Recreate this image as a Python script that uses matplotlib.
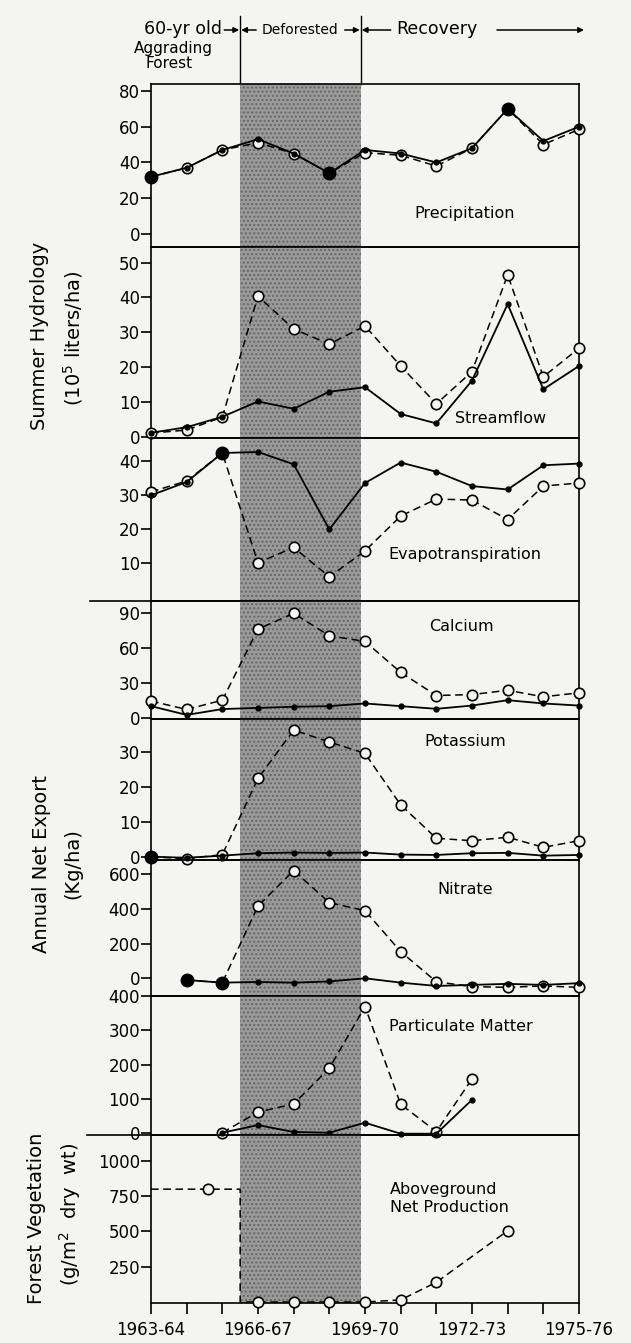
import matplotlib.pyplot as plt
import numpy as np

W, H = 631, 1343
BG = '#f4f4f2'

years = ['1963-64', '1964-65', '1965-66', '1966-67', '1967-68', '1968-69', '1969-70',
         '1970-71', '1971-72', '1972-73', '1973-74', '1974-75', '1975-76']
idx = np.arange(len(years))
shade = (2.5, 5.88)
nan = np.nan

# solid = reference forest, dashed = deforested watershed
precip_ref = [32, 37, 47, 53, 45, 34, 47, 45, 40, 48, 70, 52, 60]
precip_cut = [32, 37, 47, 51, 45, 34, 45.5, 44, 38, 48, 70, 50, 58.5]
stream_ref = [1.1, 2.7, 5.7, 10.1, 8.0, 12.9, 14.2, 6.5, 3.8, 16.1, 38.1, 13.6, 20.3]
stream_cut = [1.0, 1.9, 5.6, 40.4, 30.9, 26.6, 31.8, 20.3, 9.4, 18.7, 46.5, 17.2, 25.4]
evapo_ref = [29.9, 33.8, 42.3, 42.6, 39.0, 19.9, 33.5, 39.5, 36.8, 32.6, 31.6, 38.7, 39.2]
evapo_cut = [30.9, 34.1, 42.3, 10.1, 14.6, 6.0, 13.6, 23.8, 28.8, 28.5, 22.8, 32.6, 33.5]
calcium_ref = [10.5, 3, 8, 9, 10, 10.5, 12.8, 10.5, 8.2, 11, 15.6, 12.8, 11]
calcium_cut = [14.8, 7.7, 15.6, 76.4, 90, 70.7, 65.9, 39.4, 19.6, 20.4, 24.1, 18.5, 21.9]
potassium_ref = [0, -0.3, 0.3, 1.0, 1.2, 1.1, 1.2, 0.6, 0.5, 1.0, 1.1, 0.3, 0.5]
potassium_cut = [0, -0.6, 0.6, 22.5, 36.4, 33.0, 29.7, 14.9, 5.3, 4.6, 5.6, 2.7, 4.6]
nitrate_ref = [nan, -10, -25, -21, -25, -18, 0, -25, -44, -38, -32, -38, -28]
nitrate_cut = [nan, -10, -25, 417, 621, 436, 390, 154, -20, -48, -52, -44, -52]
partic_ref = [nan, nan, 1, 23, 3, 1, 30, -2, -2, 97, nan, nan, nan]
partic_cut = [nan, nan, 1, 61, 85, 189, 369, 84, 4, 158, nan, nan, nan]
veg_x = [0, 1.6, 2.5, 2.5, 3, 4, 5, 6, 7, 8, 10]
veg_y = [800, 800, 800, 0, 0, 0, 0, 0, 15, 140, 505]
veg_marks = [1, 4, 5, 6, 7, 8, 9, 10]

# name, ref, cut, joint big dots, ylim, yticks, label (x, y), panel px top/bottom
panels = [
    ('Precipitation', precip_ref, precip_cut, [0, 5, 10], (-7.3, 83.9), [0, 20, 40, 60, 80], (8.8, 11.7), 84, 247),
    ('Streamflow', stream_ref, stream_cut, [], (-0.4, 54.5), [0, 10, 20, 30, 40, 50], (9.8, 5.1), 247, 438),
    ('Evapotranspiration', evapo_ref, evapo_cut, [2], (-1.1, 46.7), [10, 20, 30, 40], (8.8, 12.4), 438, 601),
    ('Calcium', calcium_ref, calcium_cut, [], (-0.5, 100.5), [0, 30, 60, 90], (8.7, 78.6), 601, 719),
    ('Potassium', potassium_ref, potassium_cut, [0], (-0.95, 39.6), [0, 10, 20, 30], (8.8, 33), 719, 860),
    ('Nitrate', nitrate_ref, nitrate_cut, [1, 2], (-102, 682), [0, 200, 400, 600], (8.8, 513), 860, 996),
    ('Particulate Matter', partic_ref, partic_cut, [], (-5.8, 400), [0, 100, 200, 300, 400], (8.7, 310), 996, 1135),
]

L, R = 151, 579

fig = plt.figure(figsize=(W / 100, H / 100), dpi=100, facecolor=BG)
ov = fig.add_axes([0, 0, 1, 1], zorder=-1)
ov.set_xlim(0, W)
ov.set_ylim(H, 0)
ov.axis('off')
ov.set_facecolor(BG)


def box(top, bot):
    return [L / W, 1 - bot / H, (R - L) / W, (bot - top) / H]


def style(ax, ylim, yticks):
    ax.set_facecolor('none')
    ax.set_xlim(0, 12)
    ax.set_ylim(*ylim)
    ax.set_yticks(yticks)
    ax.tick_params(axis='y', direction='out', length=7, width=1.2, pad=1, labelsize=12)
    ax.set_xticks([])
    for s in ax.spines.values():
        s.set_linewidth(1.2)
    ax.axvspan(*shade, facecolor='#9a9a9a', edgecolor='#666666', hatch='....', lw=0, zorder=0)


for name, ref, cut, joint, ylim, yticks, lab, top, bot in panels:
    ax = fig.add_axes(box(top, bot))
    style(ax, ylim, yticks)
    ax.plot(idx, cut, color='k', lw=1.1, dashes=(5, 3), marker='o', ms=7.5,
            mfc=BG, mec='k', mew=1.2, clip_on=False, zorder=3)
    ax.plot(idx, ref, color='k', lw=1.3, marker='o', ms=3.5, clip_on=False, zorder=4)
    if joint:
        ax.plot(idx[joint], np.array(ref)[joint], 'o', color='k', ms=9, clip_on=False, zorder=5)
    ax.text(lab[0], lab[1], name, ha='center', va='center', fontsize=11.5)

# forest vegetation panel
ax = fig.add_axes(box(1135, 1303))
style(ax, (-7, 1184), [250, 500, 750, 1000])
ax.plot(veg_x, veg_y, color='k', lw=1.1, dashes=(5, 3), clip_on=False, zorder=3)
ax.plot(np.array(veg_x)[veg_marks], np.array(veg_y)[veg_marks], 'o', ms=7.5,
        mfc=BG, mec='k', mew=1.2, clip_on=False, zorder=4)
ax.text(6.7, 735, 'Aboveground\nNet Production', ha='left', va='center', fontsize=11.5,
        linespacing=1.25)
ax.set_xticks(idx)
ax.set_xticklabels([y if i % 3 == 0 else '' for i, y in enumerate(years)], fontsize=12)
ax.tick_params(axis='x', direction='out', length=8, width=1.2, pad=5)

# header above the panels
x1 = L + shade[0] * (R - L) / 12
x2 = L + shade[1] * (R - L) / 12
for xv in (x1, x2):
    ov.plot([xv, xv], [16, 84], color='k', lw=1)
arrow = dict(arrowstyle='-|>', lw=1.1, color='k', mutation_scale=8, shrinkA=0, shrinkB=0)
ov.text(x1 - 18, 29, '60-yr old', ha='right', va='center', fontsize=12.5)
ov.text(173, 49, 'Aggrading', ha='center', va='center', fontsize=11)
ov.text(169, 64, 'Forest', ha='center', va='center', fontsize=11)
ov.annotate('', xy=(x1 - 1, 30), xytext=(x1 - 16, 30), arrowprops=arrow)
ov.annotate('', xy=(x1 + 1, 30), xytext=(x1 + 16, 30), arrowprops=arrow)
ov.text((x1 + x2) / 2, 30, 'Deforested', ha='center', va='center', fontsize=10)
ov.annotate('', xy=(x2 - 1, 30), xytext=(x2 - 16, 30), arrowprops=arrow)
ov.annotate('', xy=(x2 + 1, 30), xytext=(x2 + 30, 30), arrowprops=arrow)
ov.text(x2 + 36, 29, 'Recovery', ha='left', va='center', fontsize=12.5)
ov.annotate('', xy=(584, 30), xytext=(497, 30), arrowprops=arrow)

# separators that run out to the left
ov.plot([90, L], [601, 601], color='k', lw=1.2)
ov.plot([87, L], [1135, 1135], color='k', lw=1.2)

# left-hand group labels
ylab = dict(rotation=90, ha='center', va='center', fontsize=14)
ov.text(40, 336, 'Summer Hydrology', **ylab)
ov.text(73, 338, '(10$^5$ liters/ha)', **ylab)
ov.text(42, 864, 'Annual Net Export', **ylab)
ov.text(73, 864, '(Kg/ha)', **ylab)
ov.text(37, 1218, 'Forest Vegetation', **ylab)
ov.text(70, 1214, '(g/m$^2$  dry  wt)', **ylab)

fig.savefig('out.png', dpi=100, facecolor=BG)
